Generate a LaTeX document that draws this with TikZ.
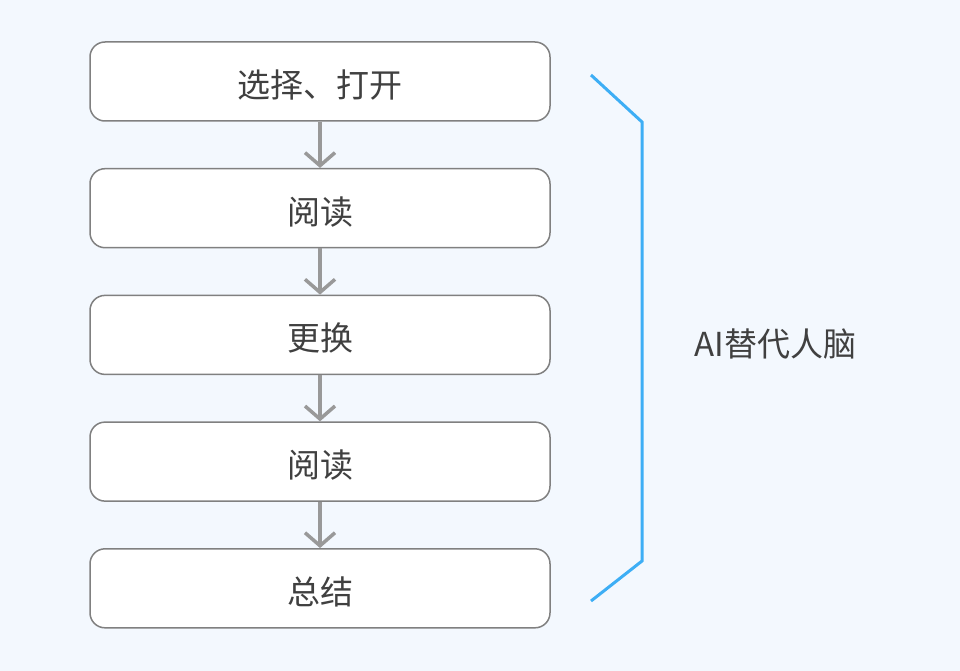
\documentclass[tikz,border=0pt]{standalone}
\usepackage{fontspec}
\setmainfont{Noto Sans CJK SC}
\usetikzlibrary{positioning,arrows.meta}
\definecolor{bgblue}{HTML}{F3F8FE}
\definecolor{boxline}{HTML}{808080}
\definecolor{arrowgray}{HTML}{999999}
\definecolor{textgray}{HTML}{404040}
\definecolor{bracketblue}{HTML}{3DAEF5}
\begin{document}
\begin{tikzpicture}[x=1pt,y=-1pt,
    stepbox/.style={draw=boxline, line width=1.5pt, fill=white, rounded corners=15pt,
        minimum width=460pt, minimum height=79pt, inner sep=0pt,
        text height=32pt, text depth=0pt,
        text=textgray, font=\fontsize{33}{38}\selectfont},
    flow/.style={draw=arrowgray, line width=3.5pt,
        -{Straight Barb[length=13pt,width=30pt,line width=3.5pt]}},
    node distance=46.2pt]
    % Background
    \fill[bgblue] (0,0) rectangle (960,671);
    \useasboundingbox (0,0) rectangle (960,671);

    % Steps
    \node[stepbox] (open) at (320,81.5) {选择、打开};
    \node[stepbox, below=of open] (read1) {阅读};
    \node[stepbox, below=of read1] (swap) {更换};
    \node[stepbox, below=of swap] (read2) {阅读};
    \node[stepbox, below=of read2] (sum) {总结};

    % Arrows
    \draw[flow] (open) -- (read1);
    \draw[flow] (read1) -- (swap);
    \draw[flow] (swap) -- (read2);
    \draw[flow] (read2) -- (sum);

    % Bracket
    \coordinate (b1) at (591,75);
    \coordinate (b2) at (642,122);
    \coordinate (b3) at (642,561);
    \coordinate (b4) at (591,601);
    \draw[bracketblue, line width=3pt] (b1) -- (b2) -- (b3) -- (b4);

    % Label
    \node[text=textgray, font=\fontsize{33}{38}\selectfont, anchor=west] (ai) at (691,344) {AI替代人脑};
\end{tikzpicture}
\end{document}
